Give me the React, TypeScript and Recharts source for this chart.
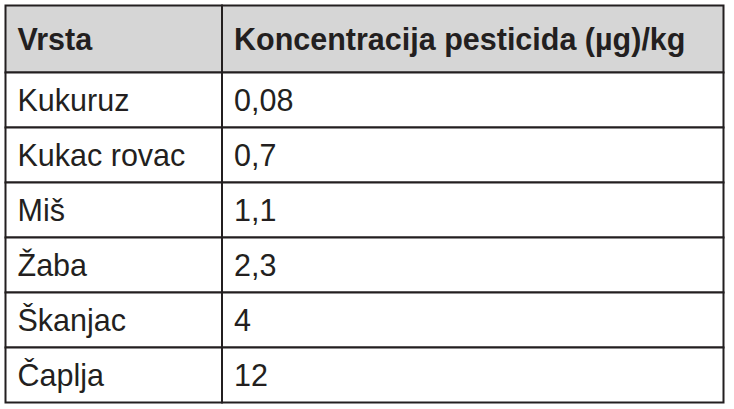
import { ComposedChart, ReferenceArea, XAxis, YAxis } from "recharts";

// column headings
const headers = ["Vrsta", "Koncentracija pesticida (µg)/kg"];
// species, top to bottom
const species = ["Kukuruz", "Kukac rovac", "Miš", "Žaba", "Škanjac", "Čaplja"];
// pesticide concentration, µg/kg
const concentrations = [0.08, 0.7, 1.1, 2.3, 4, 12];

const fmt = (v: number) => String(v).replace(".", ",");

// layout (table units): x runs across the table width, y counts rows
const TABLE_W = 718;
const COL_SPLIT = 216.5;
const HEADER_H = 67 / 55; // header row is a bit taller than body rows

const FONT = '"Liberation Sans", Arial, Helvetica, sans-serif';
const INK = "#231f20";

const cellLabel = (value: string, bold = false) => ({
  value,
  position: "insideLeft" as const,
  offset: 12,
  fill: INK,
  fontSize: 30.5,
  fontWeight: bold ? 700 : 400,
  fontFamily: FONT,
});

const rows = species.map((name, i) => ({
  name,
  value: fmt(concentrations[i]),
  top: i,
  bottom: i + 1,
}));

export default function App() {
  return (
    <div style={{ position: "absolute", left: 0, top: 0, background: "#fff" }}>
      <ComposedChart
        width={734}
        height={409}
        data={rows}
        margin={{ top: 5.5, right: 10.5, bottom: 6.5, left: 5.5 }}
      >
        <XAxis
          type="number"
          dataKey="top"
          domain={[0, TABLE_W]}
          allowDataOverflow
          hide
        />
        <YAxis
          type="number"
          domain={[-HEADER_H, species.length]}
          allowDataOverflow
          reversed
          hide
        />
        {headers.map((h, c) => (
          <ReferenceArea
            key={`h-${c}`}
            x1={c === 0 ? 0 : COL_SPLIT}
            x2={c === 0 ? COL_SPLIT : TABLE_W}
            y1={-HEADER_H}
            y2={0}
            fill="#d6d6d6"
            fillOpacity={1}
            stroke={INK}
            strokeWidth={2}
            label={cellLabel(h, true)}
          />
        ))}
        {rows.map((r) => (
          <ReferenceArea
            key={`n-${r.name}`}
            x1={0}
            x2={COL_SPLIT}
            y1={r.top}
            y2={r.bottom}
            fill="#fff"
            fillOpacity={1}
            stroke={INK}
            strokeWidth={2}
            label={cellLabel(r.name)}
          />
        ))}
        {rows.map((r) => (
          <ReferenceArea
            key={`v-${r.name}`}
            x1={COL_SPLIT}
            x2={TABLE_W}
            y1={r.top}
            y2={r.bottom}
            fill="#fff"
            fillOpacity={1}
            stroke={INK}
            strokeWidth={2}
            label={cellLabel(r.value)}
          />
        ))}
      </ComposedChart>
    </div>
  );
}
